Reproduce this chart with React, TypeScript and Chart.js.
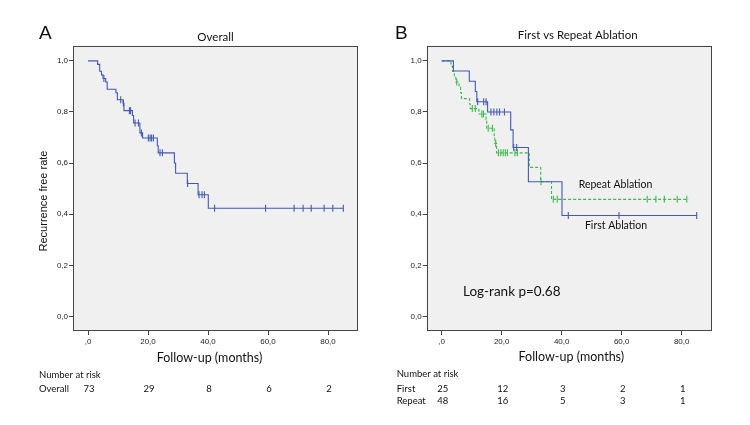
import React, { useEffect, useRef } from 'react';
import { Chart, registerables } from 'chart.js';

Chart.register(...registerables);

// ---------- Data ----------
const xTicks = [0, 20, 40, 60, 80];
const yTicks = [0, 0.2, 0.4, 0.6, 0.8, 1.0];
const riskTimes = [0, 20, 40, 60, 80];
const riskOverall = [73, 29, 8, 6, 2];
const riskFirst = [25, 12, 3, 2, 1];
const riskRepeat = [48, 16, 5, 3, 1];

// Overall Kaplan-Meier (event times and survival after each event)
const overallTimes = [0, 3.2, 3.9, 4.5, 5.0, 5.9, 6.4, 9.3, 9.8, 11.7, 12.0, 14.8, 15.2, 17.3, 18.2, 23.1, 23.4, 28.8, 29.2, 33.1, 36.7, 40.1];
const overallSurv = [1.0, 0.986, 0.959, 0.945, 0.931, 0.917, 0.889, 0.875, 0.848, 0.834, 0.805, 0.786, 0.757, 0.718, 0.698, 0.668, 0.640, 0.600, 0.560, 0.520, 0.476, 0.423];
const overallEnd = 85.1;
const overallCensored = [5.3, 10.9, 11.8, 13.8, 14.2, 15.7, 16.8, 17.8, 20.1, 20.7, 21.2, 21.8, 24.0, 24.8, 33.2, 37.0, 38.0, 38.8, 42.2, 59.2, 68.7, 71.7, 74.4, 78.7, 81.6, 85.1];

// First ablation
const firstTimes = [0, 3.9, 9.2, 11.2, 11.7, 15.3, 23.0, 23.8, 28.9, 40.1];
const firstSurv = [1.0, 0.96, 0.92, 0.88, 0.84, 0.80, 0.73, 0.661, 0.527, 0.395];
const firstEnd = 85.0;
const firstCensored = [12.0, 14.0, 14.8, 16.4, 17.4, 18.4, 19.3, 20.9, 24.0, 25.0, 42.2, 59.1, 85.0];

// Repeat ablation
const repeatTimes = [0, 3.1, 3.6, 4.2, 4.7, 5.8, 6.3, 6.6, 9.3, 9.5, 12.4, 14.8, 15.0, 17.5, 17.7, 18.3, 29.2, 33.0, 36.6];
const repeatSurv = [1.0, 0.979, 0.958, 0.938, 0.917, 0.896, 0.875, 0.852, 0.831, 0.813, 0.792, 0.771, 0.736, 0.700, 0.677, 0.640, 0.583, 0.527, 0.458];
const repeatEnd = 82.2;
const repeatCensored = [5.0, 10.2, 11.2, 13.4, 13.9, 15.5, 16.9, 18.0, 18.9, 19.7, 20.5, 21.2, 21.9, 24.4, 25.2, 33.1, 37.2, 38.5, 68.5, 71.4, 74.2, 78.5, 81.7];

// ---------- Styling ----------
const BLUE = '#4259b4';
const GREEN = '#3cb84a';
const X_MIN = -5;
const X_MAX = 90;
const Y_MIN = -0.057;
const Y_MAX = 1.058;
const TICK_FONT = '"Liberation Sans", Arial, sans-serif';
const CAL_FONT = 'Lato, "Open Sans", sans-serif';

function survAt(times: number[], surv: number[], t: number) {
  let s = surv[0];
  for (let i = 0; i < times.length; i++) {
    if (times[i] <= t + 1e-9) s = surv[i];
  }
  return s;
}

function curveData(times: number[], surv: number[], end: number) {
  const pts = times.map((t, i) => ({ x: t, y: surv[i] }));
  pts.push({ x: end, y: surv[surv.length - 1] });
  return pts;
}

function censorData(times: number[], surv: number[], cens: number[]) {
  return cens.map((t) => ({ x: t, y: survAt(times, surv, t) }));
}

function fmt(v: number) {
  if (v === 0) return ',0';
  return v.toFixed(1).replace('.', ',');
}

type TextItem = {
  text: string;
  x: number;
  y: number;
  font: string;
  align?: CanvasTextAlign;
  baseline?: CanvasTextBaseline;
  rotate?: number;
};

function makeConfig(
  seriesList: { times: number[]; surv: number[]; end: number; cens: number[]; color: string; dash?: number[] }[],
  yWidth: number,
  padRight: number,
  texts: TextItem[],
  riskRows: { y: number; values: number[] }[]
): any {
  const datasets: any[] = [];
  seriesList.forEach((s) => {
    datasets.push({
      data: curveData(s.times, s.surv, s.end),
      stepped: true,
      borderColor: s.color,
      borderWidth: 1.1,
      borderDash: s.dash || [],
      pointRadius: 0,
      fill: false,
    });
    datasets.push({
      data: censorData(s.times, s.surv, s.cens),
      showLine: false,
      pointStyle: 'line',
      rotation: 90,
      radius: 3.5,
      pointRadius: 3.5,
      borderColor: s.color,
      pointBorderColor: s.color,
      pointBorderWidth: 1.1,
    });
  });

  const framePlugin = {
    id: 'frame',
    beforeDraw(chart: any) {
      const { ctx, chartArea: a } = chart;
      ctx.save();
      ctx.fillStyle = '#f0f0f0';
      ctx.fillRect(a.left, a.top, a.right - a.left, a.bottom - a.top);
      ctx.restore();
    },
    afterDraw(chart: any) {
      const { ctx, chartArea: a } = chart;
      ctx.save();
      ctx.strokeStyle = '#444';
      ctx.lineWidth = 1;
      ctx.strokeRect(Math.round(a.left) + 0.5, Math.round(a.top) + 0.5, Math.round(a.right - a.left) - 1, Math.round(a.bottom - a.top) - 1);
      ctx.fillStyle = '#111';
      texts.forEach((t) => {
        ctx.save();
        ctx.font = t.font;
        ctx.textAlign = t.align || 'left';
        ctx.textBaseline = t.baseline || 'middle';
        ctx.translate(t.x, t.y);
        if (t.rotate) ctx.rotate(t.rotate);
        ctx.fillText(t.text, 0, 0);
        ctx.restore();
      });
      const xs = chart.scales.x;
      ctx.font = '9.5px ' + CAL_FONT;
      ctx.textAlign = 'center';
      ctx.textBaseline = 'middle';
      riskRows.forEach((row) => {
        row.values.forEach((v, i) => {
          ctx.fillText(String(v), xs.getPixelForValue(riskTimes[i]) + 1, row.y);
        });
      });
      ctx.restore();
    },
  };

  return {
    type: 'line',
    data: { datasets },
    options: {
      animation: false,
      responsive: false,
      events: [],
      layout: { padding: { left: 0, top: 46, right: padRight, bottom: 74 } },
      plugins: { legend: { display: false }, tooltip: { enabled: false }, title: { display: false } },
      scales: {
        x: {
          type: 'linear',
          min: X_MIN,
          max: X_MAX,
          afterBuildTicks: (scale: any) => {
            scale.ticks = xTicks.map((v) => ({ value: v }));
          },
          afterFit: (scale: any) => {
            scale.height = 20;
          },
          ticks: {
            callback: (v: any) => fmt(Number(v)),
            font: { family: TICK_FONT, size: 8 },
            color: '#222',
            padding: 2,
            maxRotation: 0,
            autoSkip: false,
          },
          grid: { display: true, drawOnChartArea: false, drawTicks: true, tickLength: 4, color: '#444' },
          border: { display: false },
        },
        y: {
          type: 'linear',
          min: Y_MIN,
          max: Y_MAX,
          afterBuildTicks: (scale: any) => {
            scale.ticks = yTicks.map((v) => ({ value: v }));
          },
          afterFit: (scale: any) => {
            scale.width = yWidth;
          },
          ticks: {
            callback: (v: any) => Number(v).toFixed(1).replace('.', ','),
            font: { family: TICK_FONT, size: 8 },
            color: '#222',
            padding: 1,
            autoSkip: false,
          },
          grid: { display: true, drawOnChartArea: false, drawTicks: true, tickLength: 4, color: '#444' },
          border: { display: false },
        },
      },
    },
    plugins: [framePlugin],
  };
}

export default function App() {
  const refA = useRef<HTMLCanvasElement>(null);
  const refB = useRef<HTMLCanvasElement>(null);

  useEffect(() => {
    const textsA: TextItem[] = [
      { text: 'A', x: 39, y: 39, font: '19px ' + TICK_FONT, baseline: 'alphabetic' },
      { text: 'Overall', x: 215.5, y: 37, font: '11.5px ' + CAL_FONT, align: 'center' },
      { text: 'Recurrence free rate', x: 44, y: 201, font: '11px ' + TICK_FONT, align: 'center', rotate: -Math.PI / 2 },
      { text: 'Follow-up (months)', x: 209.5, y: 357.5, font: '12.5px ' + CAL_FONT, align: 'center' },
      { text: 'Number at risk', x: 39, y: 375, font: '9.5px ' + CAL_FONT },
      { text: 'Overall', x: 39, y: 388.5, font: '9.5px ' + CAL_FONT },
    ];
    const textsB: TextItem[] = [
      { text: 'B', x: 20, y: 38.5, font: '19px ' + TICK_FONT, baseline: 'alphabetic' },
      { text: 'First vs Repeat Ablation', x: 202.7, y: 35, font: '11.5px ' + CAL_FONT, align: 'center' },
      { text: 'Follow-up (months)', x: 196.3, y: 357, font: '12.5px ' + CAL_FONT, align: 'center' },
      { text: 'Number at risk', x: 21.7, y: 373.5, font: '9.5px ' + CAL_FONT },
      { text: 'First', x: 21.7, y: 388.5, font: '9.5px ' + CAL_FONT },
      { text: 'Repeat', x: 21.7, y: 401, font: '9.5px ' + CAL_FONT },
      { text: 'Log-rank p=0.68', x: 88, y: 292, font: '13.5px ' + CAL_FONT },
      { text: 'Repeat Ablation', x: 240.5, y: 185, font: '10.5px ' + CAL_FONT, align: 'center' },
      { text: 'First Ablation', x: 241, y: 226, font: '10.5px ' + CAL_FONT, align: 'center' },
    ];

    const chartA = new Chart(
      refA.current as HTMLCanvasElement,
      makeConfig(
        [{ times: overallTimes, surv: overallSurv, end: overallEnd, cens: overallCensored, color: BLUE }],
        73,
        17,
        textsA,
        [{ y: 388.5, values: riskOverall }]
      )
    );
    const chartB = new Chart(
      refB.current as HTMLCanvasElement,
      makeConfig(
        [
          { times: firstTimes, surv: firstSurv, end: firstEnd, cens: firstCensored, color: BLUE },
          { times: repeatTimes, surv: repeatSurv, end: repeatEnd, cens: repeatCensored, color: GREEN, dash: [3, 2] },
        ],
        51.7,
        38.3,
        textsB,
        [
          { y: 388.5, values: riskFirst },
          { y: 401, values: riskRepeat },
        ]
      )
    );
    return () => {
      chartA.destroy();
      chartB.destroy();
    };
  }, []);

  return (
    <div style={{ position: 'absolute', left: 0, top: 0, width: 750, height: 425, background: '#fff' }}>
      <canvas ref={refA} width={375} height={425} style={{ position: 'absolute', left: 0, top: 0, width: 375, height: 425 }} />
      <canvas ref={refB} width={375} height={425} style={{ position: 'absolute', left: 375, top: 0, width: 375, height: 425 }} />
    </div>
  );
}
